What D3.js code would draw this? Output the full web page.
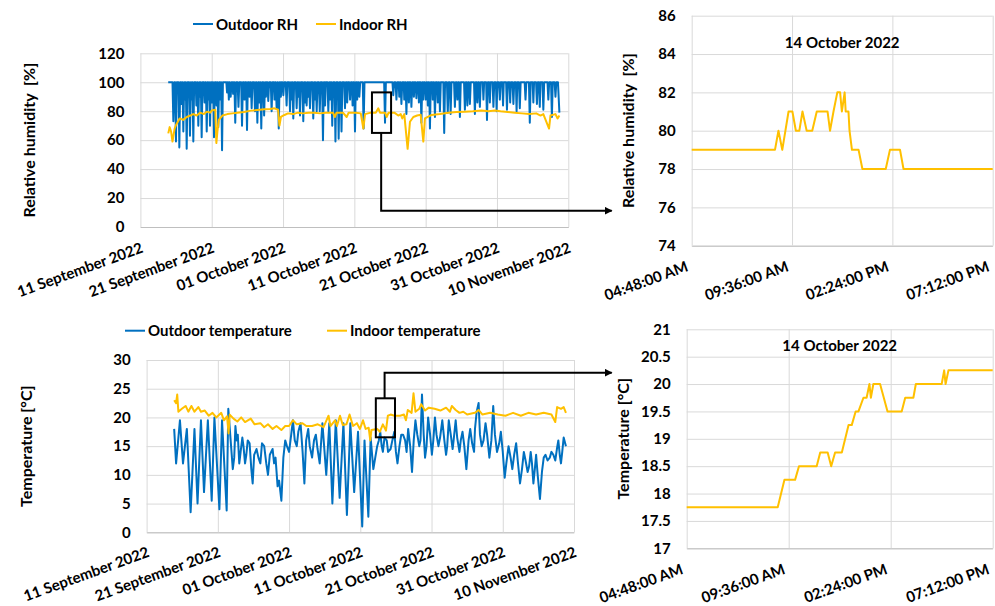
<!DOCTYPE html>
<html><head><meta charset="utf-8">
<script src="https://cdn.jsdelivr.net/npm/d3@7"></script>
<style>
body{margin:0;background:#fff;}
svg text{font-family:Lato,"Open Sans",sans-serif;font-weight:700;font-size:15px;fill:#000;}
svg text.ttl{font-size:16px;white-space:pre;}
</style></head><body>
<svg id="c" width="995" height="606"></svg>
<script>
// ---------------- DATA ----------------
// Long-period series: [days since 11 September 2022, value]
const dateTicks = ["2022-09-11","2022-09-21","2022-10-01","2022-10-11","2022-10-21","2022-10-31","2022-11-10"];
const rhTicks = [0,20,40,60,80,100,120];
const tempTicks = [0,5,10,15,20,25,30];

const outdoorRH = [
[3.9,100],
[4.5,100],[4.62,73],[4.75,100],[4.87,100],[4.99,59],[5.1,100],[5.34,100],[5.46,55],[5.58,100],
[5.67,100],[5.75,85],[5.83,100],[5.9,100],[6.02,66],[6.14,100],[6.17,100],[6.25,88],[6.33,100],
[6.37,100],[6.49,54],[6.61,100],[6.83,100],[6.95,63],[7.07,100],[7.1,100],[7.18,88],[7.26,100],
[7.3,100],[7.42,59],[7.54,100],[7.75,100],[7.85,84],[7.95,100],[8.0,100],[8.12,70],[8.24,100],
[8.27,100],[8.35,90],[8.43,100],[8.47,100],[8.59,62],[8.71,100],[8.9,100],[9.0,86],[9.1,100],
[9.18,100],[9.3,66],[9.42,100],[9.47,100],[9.55,88],[9.63,100],[9.64,100],[9.76,70],[9.88,100],
[9.97,100],[10.05,86],[10.13,100],[10.2,100],[10.32,62],[10.44,100],[10.6,100],[10.68,84],[10.76,100],
[10.8,100],[10.92,69],[11.04,100],[11.12,100],[11.2,88],[11.28,100],[11.33,100],[11.45,53],[11.57,100],
[12.05,100],[12.15,93],[12.25,100],[12.32,100],[12.4,88],[12.48,100],[12.54,100],[12.66,90],[12.78,100],
[12.92,100],[13.0,92],[13.08,100],[13.18,100],[13.3,72],[13.42,100],[13.63,100],[13.75,83],[13.87,100],
[14.13,100],[14.25,70],[14.37,100],[14.52,100],[14.6,88],[14.68,100],[14.83,100],[14.95,67],[15.07,100],
[15.22,100],[15.3,90],[15.38,100],[15.48,100],[15.6,82],[15.72,100],[15.95,100],[16.07,80],[16.19,100],
[16.28,100],[16.4,72],[16.52,100],[16.62,100],[16.7,86],[16.78,100],[16.83,100],[16.95,68],[17.07,100],
[17.23,100],[17.35,77],[17.47,100],[17.52,100],[17.6,90],[17.68,100],[17.81,100],[17.93,87],[18.05,100],
[18.28,100],[18.4,80],[18.52,100],[18.72,100],[18.8,88],[18.88,100],[18.98,100],[19.1,82],[19.22,100],
[19.28,100],[19.4,68],[19.52,100],[19.62,100],[19.7,90],[19.78,100],[19.92,100],[20.04,91],[20.16,100],
[20.38,100],[20.5,84],[20.62,100],[20.86,100],[20.98,80],[21.1,100],[21.12,100],[21.2,88],[21.28,100],
[21.32,100],[21.44,75],[21.56,100],[21.79,100],[21.91,82],[22.03,100],[22.06,100],[22.14,90],[22.22,100],
[22.26,100],[22.38,77],[22.5,100],[22.72,100],[22.84,73],[22.96,100],[23.02,100],[23.1,86],[23.18,100],
[23.19,100],[23.31,84],[23.43,100],[23.47,100],[23.55,90],[23.63,100],[23.66,100],[23.78,82],[23.9,100],
[24.12,100],[24.24,75],[24.36,100],[24.42,100],[24.5,88],[24.58,100],[24.6,100],[24.72,80],[24.84,100],
[25.03,100],[25.15,80],[25.27,100],[25.48,100],[25.6,60],[25.72,100],[25.82,100],[25.9,84],[25.98,100],
[26.23,100],[26.35,80],[26.47,100],[26.52,100],[26.6,88],[26.68,100],[26.78,100],[26.9,70],[27.02,100],
[27.23,100],[27.35,59],[27.47,100],[27.68,100],[27.8,61],[27.92,100],[28.08,100],[28.2,66],[28.32,100],
[28.57,100],[28.69,82],[28.81,100],[28.92,100],[29.0,86],[29.08,100],[29.28,100],[29.4,88],[29.52,100],
[29.67,100],[29.75,84],[29.83,100],[29.97,100],[30.09,66],[30.21,100],[30.32,100],[30.4,88],[30.48,100],
[30.58,100],[30.7,90],[30.82,100],[31.18,100],[31.3,68],[31.42,100],[34.18,100],[34.3,72],[34.42,100],
[35.34,100],[35.46,91],[35.58,100],[35.78,100],[35.9,88],[36.02,100],[36.22,100],[36.3,90],[36.38,100],
[36.48,100],[36.6,85],[36.72,100],[36.92,100],[37.0,88],[37.08,100],[37.18,100],[37.3,78],[37.42,100],
[37.57,100],[37.65,86],[37.73,100],[37.88,100],[38.0,83],[38.12,100],[38.27,100],[38.35,90],[38.43,100],
[38.58,100],[38.7,89],[38.82,100],[38.97,100],[39.05,86],[39.13,100],[39.28,100],[39.4,72],[39.52,100],
[39.57,100],[39.65,88],[39.73,100],[39.88,100],[40.0,88],[40.12,100],[40.22,100],[40.3,84],[40.38,100],
[40.48,100],[40.6,68],[40.72,100],[40.92,100],[41.0,88],[41.08,100],[41.18,100],[41.3,76],[41.42,100],
[41.6,100],[41.7,86],[41.8,100],[41.88,100],[42.0,80],[42.12,100],[42.48,100],[42.6,65],[42.72,100],
[42.98,100],[43.1,79],[43.22,100],[43.38,100],[43.5,78],[43.62,100],[43.98,100],[44.1,83],[44.22,100],
[44.35,100],[44.45,88],[44.55,100],[44.68,100],[44.8,76],[44.92,100],[45.38,100],[45.5,81],[45.62,100],
[45.75,100],[45.85,84],[45.95,100],[46.08,100],[46.2,85],[46.32,100],[46.78,100],[46.9,78],[47.02,100],
[47.15,100],[47.25,86],[47.35,100],[47.48,100],[47.6,83],[47.72,100],[48.0,100],[48.1,88],[48.2,100],
[48.48,100],[48.6,74],[48.72,100],[48.9,100],[49.0,86],[49.1,100],[49.38,100],[49.5,83],[49.62,100],
[49.85,100],[49.95,80],[50.05,100],[50.28,100],[50.4,88],[50.52,100],[50.75,100],[50.85,84],[50.95,100],
[51.28,100],[51.4,81],[51.52,100],[51.75,100],[51.85,86],[51.95,100],[52.18,100],[52.3,85],[52.42,100],
[52.65,100],[52.75,80],[52.85,100],[53.08,100],[53.2,82],[53.32,100],[53.88,100],[54.0,88],[54.12,100],
[54.48,100],[54.6,72],[54.72,100],[55.0,100],[55.1,86],[55.2,100],[55.48,100],[55.6,85],[55.72,100],
[55.9,100],[56.0,83],[56.1,100],[56.38,100],[56.5,81],[56.62,100],[57.08,100],[57.2,88],[57.32,100],
[57.58,100],[57.7,76],[57.82,100],[58.08,100],[58.2,90],[58.32,100],[58.55,100],[58.75,79]
];

const indoorRH = [
[3.91,64.7],[4.1,69],[4.3,66],[4.5,59],[4.8,68],[5.0,70.5],[5.5,75],[6.0,74],[6.5,76],[7.0,77],[7.4,78],
[7.9,77],[8.4,79],[8.9,78],[9.3,79.7],[9.8,79],[10.0,80.5],[10.5,81],[10.65,58],[10.8,66],[11.0,74],
[11.5,77],[12.2,78],[12.9,78.5],[13.6,79],[14.5,79.5],[15.5,80.4],[16.4,80.8],[17.4,81.3],[18.2,81.5],
[18.8,82],[19.3,81],[19.5,70],[19.7,76],[20.2,77.4],[20.7,78.5],[21.4,78],[22.1,79],[22.8,78.5],[23.6,79],
[24.4,79],[25.2,78.5],[26.0,79],[27.0,79],[27.28,76],[27.5,79],[28.4,79],[28.92,76],[29.2,79],[30.2,79],
[30.9,78.5],[31.26,68],[31.5,78],[32.3,79],[33.0,79],[33.36,82],[33.6,79],[34.3,79],[34.53,76],[34.8,79],
[35.6,79],[36.16,77],[36.5,78],[36.72,75],[37.0,78],[37.47,54],[37.8,72.7],[38.27,76],[38.8,77],[39.3,77.5],
[39.67,59],[39.9,75],[40.84,77.4],[42.0,78],[43.17,79],[44.3,79.5],[45.5,79.7],[46.6,80],[47.85,80.5],
[48.8,80],[49.7,80.5],[50.5,80],[51.5,79.5],[52.5,79],[53.5,78.5],[54.5,78],[55.5,78.5],[56.1,77],[56.5,78],
[57.3,68],[57.5,77],[58.2,78],[58.5,75],[58.75,77]
];

const outdoorTemp = [
[3.87,18],[4.14,12],[4.68,19.5],[5.11,12],[5.65,18],[6.18,3.5],[6.72,18],[7.15,5],[7.63,19.5],[8.06,7],
[8.6,19.5],[9.14,5.5],[9.52,20],[10.22,4],[10.59,19.5],[11.24,3.8],[11.47,21.5],[12.1,11],[12.3,13],
[12.47,18.5],[12.65,16],[12.8,17],[13.01,12],[13.2,14],[13.44,16.5],[13.6,15],[13.82,12],[14.0,13.5],
[14.2,16],[14.46,15.5],[14.7,11],[14.89,8.5],[15.1,13.5],[15.43,14.5],[15.7,13],[15.97,12],[16.2,15.5],
[16.51,15],[16.8,12],[17.04,10],[17.3,13.5],[17.69,14.5],[17.9,12],[18.1,13],[18.39,8],[18.6,9],[18.92,5.5],
[19.2,13],[19.46,16],[19.7,15],[20.0,14],[20.3,17],[20.54,19.5],[20.8,16],[21.08,15],[21.3,17.5],[21.61,19],
[21.9,14],[22.15,8.5],[22.4,16],[22.69,18],[22.9,15],[23.23,13],[23.5,16],[23.76,17],[24.0,14.5],[24.3,12],
[24.68,19],[25.22,10],[25.65,19],[26.08,5],[26.56,19.5],[27.1,6],[27.63,19],[28.12,3],[28.6,19],[29.14,7],
[29.68,17.5],[30.27,1],[30.59,16],[31.13,2.7],[31.45,16.5],[31.83,11],[32.1,13],[32.37,15],[32.6,16],
[32.8,17.5],[33.0,15],[33.17,14],[33.4,16.5],[33.71,16],[33.9,14],[34.25,14.5],[34.5,16],[34.78,17.5],
[35.0,14],[35.22,12],[35.5,15],[35.75,17],[36.0,17],[36.29,16],[36.5,14],[36.72,18],[37.0,15],[37.26,10.5],
[37.5,16],[37.74,19.5],[38.0,17],[38.28,15],[38.45,16],[38.66,24],[38.9,17],[39.09,13],[39.3,15],[39.52,20],
[39.8,17],[40.05,13.5],[40.25,16],[40.48,20],[40.7,17],[40.97,15],[41.2,16.5],[41.51,19.5],[41.8,16],
[42.04,13.5],[42.2,15],[42.42,19.5],[42.7,17],[42.96,14.5],[43.1,16],[43.39,19.5],[43.6,16.5],[43.92,14],
[44.1,16],[44.35,17.5],[44.6,15],[44.89,11],[45.2,16],[45.43,18],[45.7,15.5],[45.97,14],[46.1,18],[46.34,21],
[46.61,22.5],[46.8,17],[47.04,15],[47.3,16],[47.58,19],[47.8,17],[48.12,13],[48.4,16],[48.66,22],[48.9,17],
[49.19,14],[49.5,15.5],[49.73,17.5],[50.0,14],[50.27,9.5],[50.5,12],[50.81,15],[51.1,13],[51.34,11],
[51.6,13.5],[51.88,15.5],[52.1,12.5],[52.42,8.5],[52.7,11],[52.96,14],[53.2,12.5],[53.49,10.5],[53.7,11.5],
[53.92,14],[54.1,12],[54.3,8.5],[54.5,11],[54.68,13.5],[54.9,10],[55.22,5.8],[55.5,10.5],[55.75,13],
[56.0,13.5],[56.29,12.5],[56.6,13],[56.83,14],[57.1,13.5],[57.37,12.5],[57.6,14.5],[57.8,16],[58.0,13.5],
[58.17,12],[58.35,14],[58.55,16.5],[58.87,15]
];

const indoorTemp = [
[3.87,23],[4.14,22.5],[4.3,24],[4.46,21],[4.95,21.5],[5.48,22],[5.86,21],[6.29,22],[6.72,21],[7.26,21.8],
[7.63,21],[8.17,21.2],[8.71,20.3],[9.25,20.8],[9.78,20],[10.48,20.8],[10.86,19.5],[11.29,20.2],[11.51,17.2],
[11.67,20.5],[12.2,19.8],[12.74,19.3],[13.28,20],[13.82,19.2],[14.62,19.8],[15.16,18.8],[15.97,19],[16.51,18.3],
[17.04,18.8],[17.69,18],[18.23,18.5],[18.92,17.8],[19.46,18.5],[20.0,18.5],[20.54,19.5],[21.08,18.8],[21.88,19],
[22.42,18.5],[23.23,18.5],[24.03,18.8],[24.84,18.3],[25.54,20.3],[25.81,18.5],[26.45,19.5],[26.72,18.5],
[27.15,20.3],[27.53,18.7],[28.06,18.8],[28.49,20.5],[28.98,18.5],[29.52,19],[29.95,18],[30.38,19.5],[30.75,18],
[31.18,18.2],[31.4,16],[31.56,17.8],[32.37,18],[32.74,17.5],[33.17,18.8],[33.6,17.7],[33.87,20.3],[34.25,20.5],
[34.78,20.3],[35.59,20.3],[36.13,20.5],[36.4,19.5],[36.67,21.3],[37.2,20.8],[37.47,24.2],[37.74,21],[38.28,21.5],
[38.55,22.3],[39.09,21.2],[39.62,21.7],[40.43,21.5],[41.24,21.2],[42.04,21.7],[42.58,21],[42.85,22],[43.39,21.3],
[43.92,20.8],[44.46,21],[45.0,20.5],[46.08,20.8],[46.61,21.3],[47.15,20.5],[48.23,20.8],[49.3,20.5],[50.38,20.3],
[51.45,20.8],[52.53,20.3],[53.6,20.8],[54.68,20.5],[55.75,20.8],[56.83,20.5],[57.37,19.2],[57.63,21.8],
[58.17,21.5],[58.55,21.8],[58.87,20.8]
];

// Zoomed day (14 October 2022): [time, value]
const zoomDate = "2022-10-14";
const timeTicks = ["04:48","09:36","14:24","19:12"];
const zoomRHTicks = [74,76,78,80,82,84,86];
const zoomTempTicks = [17,17.5,18,18.5,19,19.5,20,20.5,21];
const zoomRH = [
["04:48",79],["08:47",79],["08:57",80],["09:08",79],["09:26",81],["09:37",81],["09:47",80],["09:57",80],
["10:06",81],["10:18",80],["10:34",80],["10:47",81],["11:18",81],["11:25",80],["11:35",81],["11:46",82],
["11:54",82],["11:59",81],["12:07",82],["12:10",81],["12:18",81],["12:21",80],["12:28",79],["12:47",79],
["12:58",78],["14:05",78],["14:17",79],["14:46",79],["14:56",78],["19:12",78]
];
const zoomTemp = [
["04:48",17.75],["09:05",17.75],["09:24",18.25],["09:54",18.25],["10:05",18.5],["10:55",18.5],["11:05",18.75],
["11:26",18.75],["11:36",18.5],["11:47",18.75],["12:06",18.75],["12:25",19.25],["12:34",19.25],["12:45",19.5],
["12:53",19.5],["13:07",19.75],["13:16",19.75],["13:24",20],["13:28",19.75],["13:35",20],["13:54",20],
["14:15",19.5],["14:55",19.5],["15:05",19.75],["15:28",19.75],["15:35",20],["16:48",20],["16:55",20.25],
["16:59",20],["17:07",20.25],["19:12",20.25]
];

// Highlight boxes on the long charts: [fromDay, toDay, low, high, leaderDay, leaderLevel]
const rhBox = [32.47, 35.15, 65, 93, 33.76, 11.3];
const tempBox = [32.18, 34.87, 16.54, 23.33, 33.41, 27.8];

// ---------------- DRAWING ----------------
const BLUE = "#0070C0", YELLOW = "#FFC000", GRID = "#d9d9d9";
const svg = d3.select("#c");
const t0 = Date.UTC(2022, 8, 11);
const dayToDate = d => new Date(t0 + d * 864e5);
const timeToDate = s => new Date(zoomDate + "T" + s + ":00Z");

svg.append("defs").append("marker").attr("id","arr").attr("viewBox","0 0 10 10")
  .attr("refX",9).attr("refY",5).attr("markerWidth",4).attr("markerHeight",4).attr("orient","auto")
  .append("path").attr("d","M0,0 L10,5 L0,10 z").attr("fill","#000");

function panel(cfg){
  const {x, y, xTicks, yTicks, xFmt, yFmt} = cfg;
  const [L, R] = x.range(); const [B, T] = y.range();
  const g = svg.append("g");
  const ya = g.append("g").attr("transform", `translate(${L},0)`)
    .call(d3.axisLeft(y).tickValues(yTicks).tickFormat(yFmt).tickSize(-(R - L)).tickSizeOuter(0).tickPadding(cfg.yPad));
  ya.select(".domain").remove();
  ya.selectAll("line").attr("stroke", GRID);
  const xa = g.append("g").attr("transform", `translate(0,${B})`)
    .call(d3.axisBottom(x).tickValues(xTicks).tickFormat(xFmt).tickSize(-(B - T)).tickSizeOuter(0));
  xa.select(".domain").attr("stroke", "#bfbfbf");
  xa.selectAll("line").attr("stroke", GRID);
  xa.selectAll("text").attr("y", null).attr("dy", null).attr("text-anchor", "end")
    .attr("transform", `translate(${cfg.lx},${cfg.ly}) rotate(-20)`);
  cfg.series.forEach(s => {
    g.append("path").datum(s.data).attr("fill", "none").attr("stroke", s.color)
      .attr("stroke-width", 2).attr("stroke-linejoin", "round")
      .attr("d", d3.line().x(d => x(s.xf(d[0]))).y(d => y(d[1])));
  });
  svg.append("text").attr("class", "ttl").attr("transform", `translate(${cfg.titleX},${(T + B) / 2}) rotate(-90)`)
    .attr("text-anchor", "middle").text(cfg.title);
  if (cfg.heading) svg.append("text").attr("x", (L + R) / 2).attr("y", T + cfg.headingDy)
    .attr("text-anchor", "middle").text(cfg.heading);
  return g;
}

const fmtDate = d3.utcFormat("%d %B %Y");
const fmtTime = d3.utcFormat("%I:%M:%S %p");
const dDates = dateTicks.map(s => new Date(s + "T00:00:00Z"));
const zTimes = timeTicks.map(timeToDate);

// Top-left: relative humidity
const x1 = d3.scaleUtc().domain([dDates[0], dDates[dDates.length - 1]]).range([140.4, 568.3]);
const y1 = d3.scaleLinear().domain([0, 120]).range([227, 53.3]);
panel({x: x1, y: y1, xTicks: dDates, yTicks: rhTicks, xFmt: fmtDate, yFmt: d3.format("d"), yPad: 16,
  lx: 3, ly: 25, title: "Relative humidity  [%]", titleX: 35,
  series: [{data: outdoorRH, color: BLUE, xf: dayToDate}, {data: indoorRH, color: YELLOW, xf: dayToDate}]});

// Bottom-left: temperature
const x2 = d3.scaleUtc().domain([dDates[0], dDates[dDates.length - 1]]).range([146.6, 574]);
const y2 = d3.scaleLinear().domain([0, 30]).range([532.3, 360]);
panel({x: x2, y: y2, xTicks: dDates, yTicks: tempTicks, xFmt: fmtDate, yFmt: d3.format("d"), yPad: 16,
  lx: 3, ly: 24, title: "Temperature [°C]", titleX: 32,
  series: [{data: outdoorTemp, color: BLUE, xf: dayToDate}, {data: indoorTemp, color: YELLOW, xf: dayToDate}]});

// Top-right: zoomed RH
const x3 = d3.scaleUtc().domain([zTimes[0], zTimes[3]]).range([691.7, 992.7]);
const y3 = d3.scaleLinear().domain([74, 86]).range([245.7, 15.7]);
panel({x: x3, y: y3, xTicks: zTimes, yTicks: zoomRHTicks, xFmt: fmtTime, yFmt: d3.format("d"), yPad: 16,
  lx: -3, ly: 25, title: "Relative humidity  [%]", titleX: 634, heading: "14 October 2022", headingDy: 32,
  series: [{data: zoomRH, color: YELLOW, xf: timeToDate}]});

// Bottom-right: zoomed temperature
const x4 = d3.scaleUtc().domain([zTimes[0], zTimes[3]]).range([686.7, 992.7]);
const y4 = d3.scaleLinear().domain([17, 21]).range([548.3, 329.3]);
panel({x: x4, y: y4, xTicks: zTimes, yTicks: zoomTempTicks, xFmt: fmtTime, yFmt: d => String(d), yPad: 16,
  lx: -3, ly: 25, title: "Temperature [°C]", titleX: 629, heading: "14 October 2022", headingDy: 22,
  series: [{data: zoomTemp, color: YELLOW, xf: timeToDate}]});

// Highlight boxes and leader arrows
function box(x, y, b, up, targetX){
  const [d0, d1, lo, hi, ld, lv] = b;
  svg.append("rect").attr("x", x(dayToDate(d0))).attr("y", y(hi))
    .attr("width", x(dayToDate(d1)) - x(dayToDate(d0))).attr("height", y(lo) - y(hi))
    .attr("fill", "none").attr("stroke", "#000").attr("stroke-width", 2);
  const lx = x(dayToDate(ld));
  svg.append("path").attr("d", `M${lx},${up ? y(hi) : y(lo)} V${y(lv)} H${targetX}`)
    .attr("fill", "none").attr("stroke", "#000").attr("stroke-width", 2).attr("marker-end", "url(#arr)");
}
box(x1, y1, rhBox, false, x3.range()[0] - 80);
box(x2, y2, tempBox, true, x3.range()[0] - 80);

// Legends
function legend(items, y){
  items.forEach(it => {
    svg.append("line").attr("x1", it.x).attr("x2", it.x + 20).attr("y1", y).attr("y2", y)
      .attr("stroke", it.color).attr("stroke-width", 2);
    svg.append("text").attr("x", it.x + 23).attr("y", y + 5.5).text(it.label);
  });
}
legend([{x: 193, color: BLUE, label: "Outdoor RH"}, {x: 316, color: YELLOW, label: "Indoor RH"}], 24);
legend([{x: 125, color: BLUE, label: "Outdoor temperature"}, {x: 327, color: YELLOW, label: "Indoor temperature"}], 330.7);
</script></body></html>
